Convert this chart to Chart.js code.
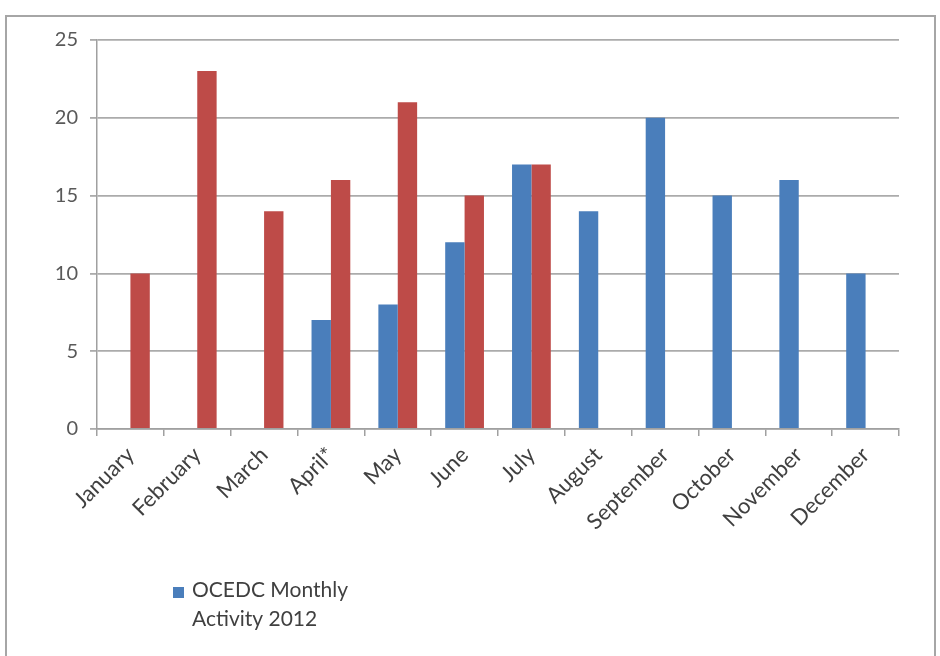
<!DOCTYPE html>
<html>
<head>
<meta charset="utf-8">
<script src="https://cdn.jsdelivr.net/npm/chart.js@4.4.1/dist/chart.umd.min.js"></script>
<style>
  html, body { margin: 0; padding: 0; background: #fff; }
  #wrap { position: relative; width: 940px; height: 656px; overflow: hidden; }
  #frame { position: absolute; left: 5px; top: 15px; width: 931px; height: 660px;
           border: 2px solid #a6a6a6; border-bottom: none; box-sizing: border-box; }
  canvas { position: absolute; left: 0; top: 0; }
</style>
</head>
<body>
<div id="wrap">
  <div id="frame"></div>
  <canvas id="activityChart" width="940" height="656"></canvas>
</div>
<script>
// months along the x axis
const months = ["January", "February", "March", "April*", "May", "June", "July",
  "August", "September", "October", "November", "December"];
// blue series (legend shown)
const activity2012 = [null, null, null, 7, 8, 12, 17, 14, 20, 15, 16, 10];
// red series (no legend entry visible)
const activityRed = [10, 23, 14, 16, 21, 15, 17, null, null, null, null, null];
const yTicks = [0, 5, 10, 15, 20, 25];
const legendLines = ["OCEDC Monthly", "Activity 2012"];

const FONT = "Lato, 'Open Sans', sans-serif";

// legend drawn by hand so the label can wrap on two lines
const wrappedLegend = {
  id: "wrappedLegend",
  afterDraw(chart) {
    const ctx = chart.ctx;
    const ds = chart.data.datasets[0];
    ctx.save();
    ctx.fillStyle = ds.backgroundColor;
    ctx.fillRect(173, 587, 11, 11);
    ctx.fillStyle = "#404040";
    ctx.font = "21px " + FONT;
    ctx.textBaseline = "middle";
    legendLines.forEach((line, i) => ctx.fillText(line, 192, 590 + i * 29));
    ctx.restore();
  }
};

const ctx = document.getElementById("activityChart").getContext("2d");
new Chart(ctx, {
  type: "bar",
  data: {
    labels: months,
    datasets: [
      {
        label: legendLines.join(" "),
        data: activity2012,
        backgroundColor: "#4a7ebb",
        categoryPercentage: 0.58,
        barPercentage: 1.0
      },
      {
        label: "",
        data: activityRed,
        backgroundColor: "#be4b48",
        categoryPercentage: 0.58,
        barPercentage: 1.0
      }
    ]
  },
  options: {
    responsive: false,
    animation: false,
    layout: { padding: { top: 40, right: 41, left: 0, bottom: 0 } },
    plugins: {
      legend: { display: false },
      tooltip: { enabled: false }
    },
    scales: {
      x: {
        afterFit: s => { s.height = 227; },
        border: { color: "#a0a0a0", width: 1.5 },
        grid: { drawOnChartArea: false, drawTicks: true, tickLength: 7, color: "#a0a0a0", lineWidth: 1.5 },
        ticks: {
          minRotation: 45, maxRotation: 45,
          autoSkip: false,
          color: "#404040",
          font: { family: FONT, size: 22 },
          padding: 6
        }
      },
      y: {
        min: 0, max: 25,
        afterFit: s => { s.width = 97; },
        afterBuildTicks: s => { s.ticks = yTicks.map(v => ({ value: v })); },
        border: { color: "#a0a0a0", width: 1.5 },
        grid: { color: "#ababab", lineWidth: 1.8, tickLength: 7 },
        ticks: {
          color: "#595959",
          font: { family: FONT, size: 20 },
          padding: 12
        }
      }
    }
  },
  plugins: [wrappedLegend]
});
</script>
</body>
</html>
